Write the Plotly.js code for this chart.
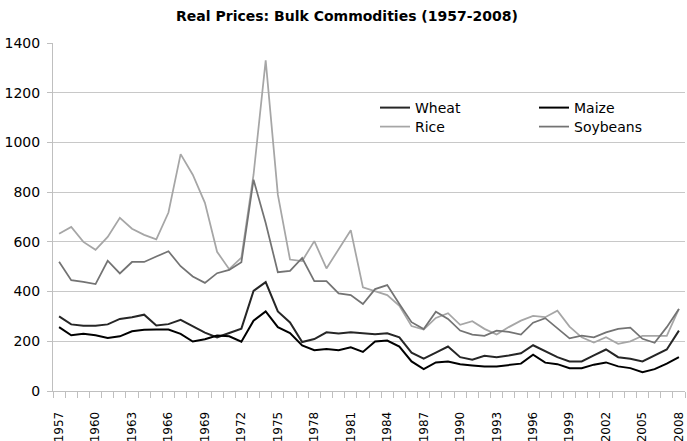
<!DOCTYPE html>
<html>
<head>
<meta charset="utf-8">
<script src="https://cdn.plot.ly/plotly-3.0.1.min.js"></script>
<style>
  html, body { margin: 0; padding: 0; background: #ffffff; }
  #chart { width: 687px; height: 441px; }
</style>
</head>
<body>
<div id="chart"></div>
<script>
const years = [1957,1958,1959,1960,1961,1962,1963,1964,1965,1966,1967,1968,1969,1970,1971,1972,1973,1974,1975,1976,1977,1978,1979,1980,1981,1982,1983,1984,1985,1986,1987,1988,1989,1990,1991,1992,1993,1994,1995,1996,1997,1998,1999,2000,2001,2002,2003,2004,2005,2006,2007,2008];
const tickYears = [1957,1960,1963,1966,1969,1972,1975,1978,1981,1984,1987,1990,1993,1996,1999,2002,2005,2008];
const tickLabels = ["1957","1960","1963","1966","1969","1972","1975","1978","1981","1984","1987","1990","1993","1996","1999","2002","2005","2008"];

const wheat = [300,268,263,263,268,290,297,307,264,269,286,260,235,216,232,251,403,438,320,276,197,209,236,231,236,231,228,232,216,154,130,154,179,136,126,142,136,143,152,184,160,136,119,119,143,167,136,130,119,143,167,243];
const maize = [257,224,230,224,213,220,240,246,247,247,230,199,208,223,220,198,283,320,257,233,183,164,169,164,176,157,199,203,179,119,88,115,119,108,103,99,99,103,110,146,114,108,92,92,106,115,99,92,76,88,110,136];
const rice = [633,660,600,568,620,697,653,628,610,718,953,870,757,560,490,537,870,1330,790,529,523,603,493,569,647,417,403,386,343,261,247,294,313,266,281,250,227,257,283,302,297,323,259,216,195,216,190,200,222,222,222,330];
const soybeans = [520,446,439,430,524,473,519,519,541,562,502,461,435,474,487,518,850,676,478,483,535,442,442,393,386,350,410,426,350,277,249,319,290,243,227,222,243,238,227,275,293,253,212,223,216,236,250,255,210,194,257,330];

const seriesNames = ["Wheat","Maize","Rice","Soybeans"];
const seriesColors = ["#262626","#000000","#a6a6a6","#737373"];
const seriesData = [wheat, maize, rice, soybeans];
const legendIds = ["legend","legend2","legend3","legend4"];

const traces = seriesData.map((vals, k) => ({
  type: "scatter",
  mode: "lines",
  name: seriesNames[k],
  x: years,
  y: vals,
  legend: legendIds[k],
  line: { color: seriesColors[k], width: k < 2 ? 2 : 1.75 },
  hoverinfo: "skip"
}));

const plotL = 53, plotR = 685, plotT = 43, plotB = 391;
const pw = plotR - plotL, ph = plotB - plotT;
function lx(px) { return (px - plotL) / pw; }
function ly(py) { return (plotB - py) / ph; }
const legFont = { family: "DejaVu Sans, Verdana, sans-serif", size: 14, color: "#000000" };
function leg(px, py) {
  return { x: lx(px), y: ly(py), xanchor: "left", yanchor: "middle", bgcolor: "rgba(0,0,0,0)",
           borderwidth: 0, font: legFont, itemwidth: 30, tracegroupgap: 0 };
}

const layout = {
  width: 687, height: 441,
  margin: { l: plotL, r: 687 - plotR, t: plotT, b: 441 - plotB, pad: 0 },
  paper_bgcolor: "#ffffff",
  plot_bgcolor: "#ffffff",
  title: {
    text: "<b>Real Prices: Bulk Commodities (1957-2008)</b>",
    font: { family: "DejaVu Sans, Verdana, sans-serif", size: 14, color: "#000000" },
    x: 347 / 687, xanchor: "center", xref: "container",
    y: 1 - 16 / 441, yanchor: "middle", yref: "container"
  },
  xaxis: {
    range: [1956.5, 2008.5],
    tickmode: "array", tickvals: tickYears, ticktext: tickLabels,
    tickangle: -90,
    ticks: "", showgrid: false, zeroline: false,
    showline: true, linecolor: "#bfbfbf", linewidth: 1,
    tickfont: { family: "DejaVu Sans, Verdana, sans-serif", size: 12, color: "#000000" },
    ticklabelstandoff: 15,
    minor: { tickmode: "linear", tick0: 1956.5, dtick: 1, ticks: "outside", ticklen: 6, tickcolor: "#bfbfbf", tickwidth: 1, showgrid: false },
    fixedrange: true
  },
  yaxis: {
    range: [0, 1400], tickmode: "linear", tick0: 0, dtick: 200,
    showgrid: true, gridcolor: "#c8c8c8", gridwidth: 1,
    zeroline: false, showline: true, linecolor: "#bfbfbf", linewidth: 1,
    ticks: "outside", ticklen: 5, tickcolor: "#bfbfbf",
    tickfont: { family: "DejaVu Sans, Verdana, sans-serif", size: 14, color: "#000000" },
    ticklabelstandoff: 4,
    fixedrange: true
  },
  legend: leg(375, 108),
  legend2: leg(534, 108),
  legend3: leg(375, 127),
  legend4: leg(534, 127),
  showlegend: true
};

Plotly.newPlot("chart", traces, layout, { displayModeBar: false, staticPlot: true });
</script>
</body>
</html>
